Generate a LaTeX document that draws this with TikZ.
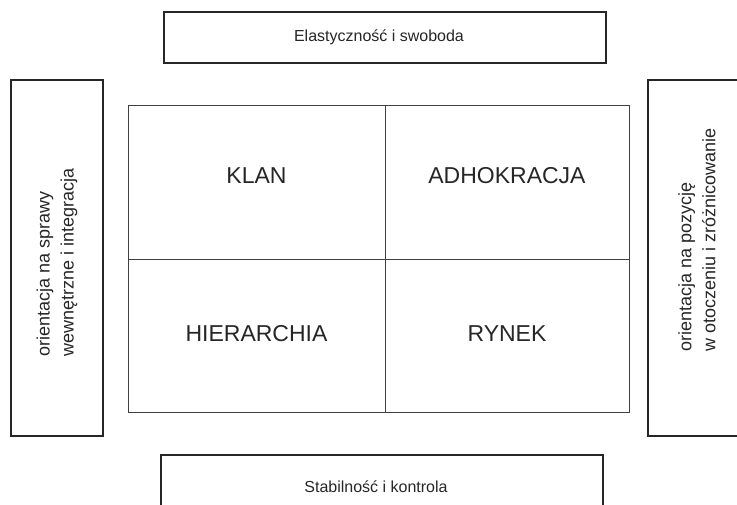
\documentclass[tikz,border=0pt]{standalone}
\usepackage{fontspec}
\setmainfont{Liberation Sans}
\begin{document}
\begin{tikzpicture}[x=1pt,y=-1pt,
  frame/.style={draw=black!85, line width=1.6pt, inner sep=0pt},
  cell/.style={draw=black!75, line width=0.9pt, inner sep=0pt},
  small/.style={font=\fontsize{16}{24}\selectfont, text=black!85, align=left},
  side/.style={font=\fontsize{18}{24}\selectfont, text=black!85, align=left, rotate=90},
  big/.style={font=\fontsize{23}{27}\selectfont, text=black!85}]
\useasboundingbox (0,0) rectangle (737,505);
\clip (0,0) rectangle (737,505);
% outer frames
\node[frame, minimum width=442, minimum height=51] (top) at (385,37.5) {};
\node[frame, minimum width=442, minimum height=64] (bottom) at (382,487) {};
\node[frame, minimum width=92, minimum height=356] (left) at (57,258) {};
\node[frame, minimum width=98, minimum height=356] (right) at (697,258) {};
% four cells
\node[cell, minimum width=257, minimum height=154] (klan) at (256.5,182) {};
\node[cell, minimum width=244, minimum height=154] (adho) at (507,182) {};
\node[cell, minimum width=257, minimum height=153] (hier) at (256.5,335.5) {};
\node[cell, minimum width=244, minimum height=153] (rynek) at (507,335.5) {};
% labels
\node[small] (topt) at ([xshift=-6]top.center) {Elastyczność i swoboda};
\node[small] (bott) at ([xshift=-6]bottom.center) {Stabilność i kontrola};
\node[side] (leftt) at ([yshift=-4]left.center) {orientacja na sprawy\\wewnętrzne i integracja};
\node[side] (rightt) at ([yshift=18]right.center) {orientacja na pozycję\\w otoczeniu i zróżnicowanie};
\node[big] (klant) at ([yshift=6]klan.center) {KLAN};
\node[big] (adhot) at ([yshift=6]adho.center) {ADHOKRACJA};
\node[big] (hiert) at ([yshift=2]hier.center) {HIERARCHIA};
\node[big] (rynekt) at ([yshift=2]rynek.center) {RYNEK};
\end{tikzpicture}
\end{document}
